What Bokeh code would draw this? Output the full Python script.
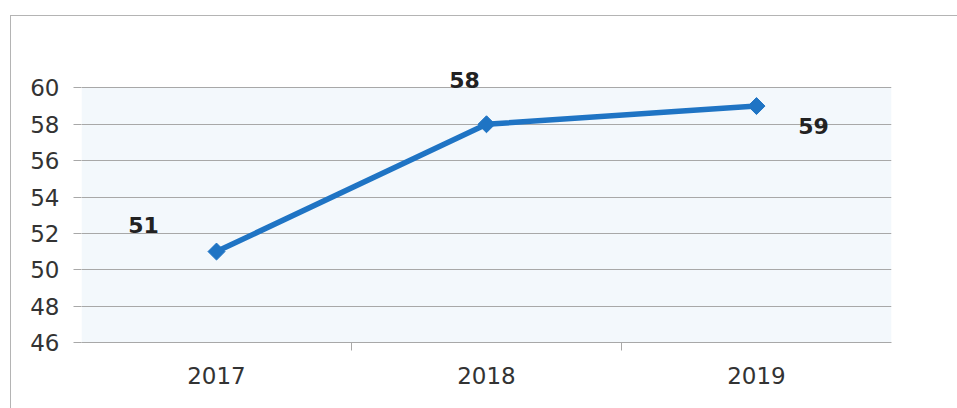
import math
from bokeh.plotting import figure
from bokeh.models import (ColumnDataSource, FactorRange, Range1d, FixedTicker,
                          CategoricalAxis, LabelSet, BoxAnnotation)
from bokeh.core.properties import value
from bokeh.embed import file_html
from bokeh.resources import INLINE

# ---- data ----
years = ["2017", "2018", "2019"]
values = [51, 58, 59]
value_labels = ["51", "58", "59"]
y_ticks = [46, 48, 50, 52, 54, 56, 58, 60]
category_edges = ["e0", "e1", "e2", "e3"]

# label placement (screen offsets, styling only)
label_dx = [-73, -22, 57]
label_dy = [27, 44, -20]

src = ColumnDataSource(dict(x=years, y=values, txt=value_labels,
                            dx=label_dx, dy=label_dy))

FONT = "DejaVu Sans"
BLUE = "#1f74c4"

p = figure(width=947, height=393, x_range=FactorRange(*years, range_padding=0),
           y_range=Range1d(46, 62), output_backend="svg", toolbar_location=None,
           x_axis_location=None, y_axis_location="left",
           min_border_left=70, min_border_top=35, min_border_right=67, min_border_bottom=67,
           margin=(15, 0, 0, 10),
           styles={"border-top": "1px solid #b4b4b4", "border-left": "1px solid #b4b4b4"})

p.background_fill_color = "white"
p.border_fill_color = "white"
p.outline_line_color = None

# light plot-area panel from 46 to 60
p.add_layout(BoxAnnotation(bottom=y_ticks[0], top=y_ticks[-1], fill_color="#f3f8fc",
                           fill_alpha=1, line_color=None, level="image"))

# y axis
p.yaxis.ticker = FixedTicker(ticks=y_ticks)
p.yaxis.axis_line_color = None
p.yaxis.major_tick_line_color = "#a8a8a8"
p.yaxis.major_tick_out = 8
p.yaxis.major_tick_in = 0
p.yaxis.minor_tick_line_color = None
p.yaxis.major_label_standoff = 14
p.yaxis.major_label_text_font = FONT
p.yaxis.major_label_text_font_size = "23px"
p.yaxis.major_label_text_color = "#333333"

p.ygrid.ticker = FixedTicker(ticks=y_ticks)
p.ygrid.grid_line_color = "#a8a8a8"
p.xgrid.grid_line_color = None

# x axis: tick marks at category edges (factor range shrunk so edge factors sit on the frame edges)
p.extra_x_ranges = {"edges": FactorRange(*category_edges, range_padding=-0.5,
                                         range_padding_units="absolute")}
edge_axis = CategoricalAxis(x_range_name="edges")
edge_axis.axis_line_color = "#a8a8a8"
edge_axis.major_tick_line_color = "#a8a8a8"
edge_axis.major_tick_out = 8
edge_axis.major_tick_in = 0
edge_axis.minor_tick_line_color = None
edge_axis.major_label_text_font_size = "1px"
edge_axis.major_label_text_alpha = 0
edge_axis.major_label_standoff = 0
p.add_layout(edge_axis, "below")

cat_axis = CategoricalAxis()
cat_axis.axis_line_color = None
cat_axis.major_tick_line_color = None
cat_axis.major_tick_out = 0
cat_axis.major_tick_in = 0
cat_axis.major_label_standoff = 16
cat_axis.major_label_text_font = FONT
cat_axis.major_label_text_font_size = "23px"
cat_axis.major_label_text_color = "#333333"
p.add_layout(cat_axis, "below")

# series
p.line("x", "y", source=src, line_color=BLUE, line_width=5.5)
p.scatter("x", "y", source=src, marker="square", size=12, angle=math.pi / 4,
          fill_color=BLUE, line_color=BLUE)

labels = LabelSet(x="x", y="y", text="txt", source=src, x_offset="dx", y_offset="dy",
                  text_align="center", text_baseline="middle",
                  text_font=value(FONT), text_font_size=value("22px"),
                  text_font_style=value("bold"), text_color=value("#222222"))
p.add_layout(labels)

open("out.html", "w").write(file_html(p, INLINE))
